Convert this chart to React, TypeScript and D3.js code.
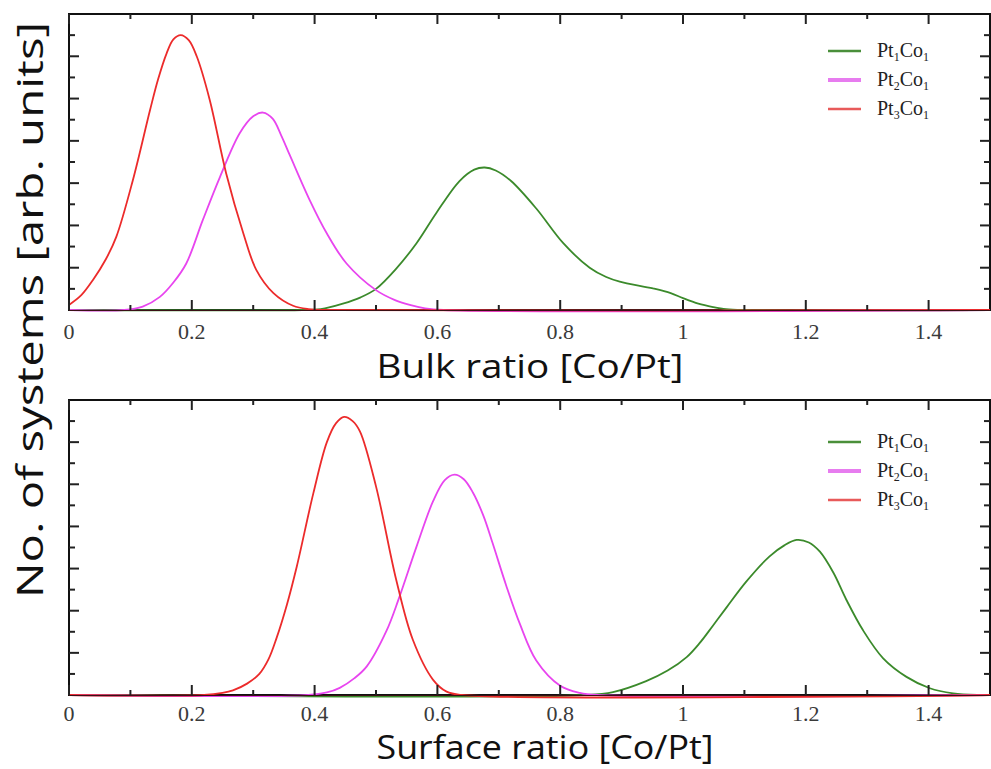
import React from "react";
import * as d3 from "d3";

// ---- Data ----
const xTicks = [0, 0.2, 0.4, 0.6, 0.8, 1, 1.2, 1.4];
const xTickLabels = ["0", "0.2", "0.4", "0.6", "0.8", "1", "1.2", "1.4"];
const seriesNames = ["Pt1Co1", "Pt2Co1", "Pt3Co1"];
const seriesSub = [["1", "1"], ["2", "1"], ["3", "1"]];

// Bulk ratio panel
const bulkPt1Co1X = [0, 0.38, 0.41, 0.446, 0.475, 0.5, 0.533, 0.566, 0.598, 0.636, 0.66, 0.677, 0.695, 0.72, 0.761, 0.805, 0.848, 0.875, 0.897, 0.951, 0.98, 1.0, 1.025, 1.049, 1.07, 1.1, 1.5];
const bulkPt1Co1Y = [0, 0, 0.02, 0.15, 0.3, 0.5, 0.98, 1.58, 2.29, 3.05, 3.32, 3.37, 3.3, 3.05, 2.4, 1.58, 1.0, 0.78, 0.67, 0.51, 0.4, 0.28, 0.15, 0.07, 0.02, 0, 0];
const bulkPt2Co1X = [0, 0.09, 0.12, 0.148, 0.17, 0.191, 0.218, 0.246, 0.278, 0.3, 0.316, 0.332, 0.345, 0.36, 0.392, 0.42, 0.452, 0.5, 0.53, 0.555, 0.58, 0.61, 1.5];
const bulkPt2Co1Y = [0, 0, 0.08, 0.31, 0.65, 1.1, 2.13, 3.15, 4.18, 4.58, 4.67, 4.52, 4.15, 3.65, 2.6, 1.81, 1.1, 0.47, 0.24, 0.12, 0.04, 0, 0];
const bulkPt3Co1X = [0, 0.02, 0.039, 0.06, 0.077, 0.104, 0.132, 0.145, 0.159, 0.17, 0.182, 0.195, 0.208, 0.229, 0.256, 0.284, 0.305, 0.333, 0.365, 0.39, 0.42, 1.5];
const bulkPt3Co1Y = [0.12, 0.35, 0.71, 1.2, 1.73, 3.07, 4.73, 5.45, 6.07, 6.4, 6.5, 6.38, 6.0, 4.98, 3.23, 1.81, 0.95, 0.4, 0.1, 0.02, 0, 0];

// Surface ratio panel
const surfPt1Co1X = [0, 0.84, 0.886, 0.94, 0.975, 1.006, 1.027, 1.049, 1.071, 1.103, 1.141, 1.165, 1.185, 1.205, 1.223, 1.245, 1.266, 1.293, 1.326, 1.364, 1.402, 1.44, 1.48, 1.5];
const surfPt1Co1Y = [0, 0, 0.07, 0.33, 0.58, 0.9, 1.23, 1.65, 2.08, 2.69, 3.29, 3.55, 3.68, 3.62, 3.4, 2.9, 2.26, 1.54, 0.87, 0.43, 0.16, 0.04, 0, 0];
const surfPt2Co1X = [0, 0.39, 0.42, 0.441, 0.465, 0.485, 0.517, 0.537, 0.566, 0.593, 0.612, 0.628, 0.643, 0.658, 0.675, 0.69, 0.712, 0.734, 0.761, 0.8, 0.832, 0.86, 1.5];
const surfPt2Co1Y = [0, 0, 0.06, 0.17, 0.4, 0.68, 1.52, 2.28, 3.52, 4.6, 5.1, 5.23, 5.12, 4.8, 4.25, 3.6, 2.6, 1.7, 0.82, 0.22, 0.05, 0, 0];
const surfPt3Co1X = [0, 0.22, 0.25, 0.267, 0.29, 0.31, 0.325, 0.338, 0.355, 0.371, 0.398, 0.42, 0.435, 0.448, 0.462, 0.474, 0.5, 0.533, 0.56, 0.593, 0.615, 0.64, 1.5];
const surfPt3Co1Y = [0, 0, 0.05, 0.11, 0.27, 0.5, 0.85, 1.35, 2.15, 3.05, 4.79, 6.0, 6.45, 6.6, 6.5, 6.25, 4.95, 2.73, 1.31, 0.36, 0.08, 0, 0];

const colors = ["#3b8a2b", "#e845ef", "#ec2b2b"];
const legendColors = ["#4a8f3a", "#e77cef", "#e85a5a"];

const W = 991;
const H = 769;
const left = 69;
const right = 990;

type Panel = {
  top: number;
  bottom: number;
  xs: number[][];
  ys: number[][];
  title: string;
  titleX: number;
  titleY: number;
  titleLen: number;
  labelDy: number;
  legendY: number[];
};

const panels: Panel[] = [
  {
    top: 14,
    bottom: 310,
    xs: [bulkPt1Co1X, bulkPt2Co1X, bulkPt3Co1X],
    ys: [bulkPt1Co1Y, bulkPt2Co1Y, bulkPt3Co1Y],
    title: "Bulk ratio [Co/Pt]",
    titleX: 530,
    titleY: 378,
    titleLen: 307,
    labelDy: 29,
    legendY: [51, 80, 109],
  },
  {
    top: 400,
    bottom: 695,
    xs: [surfPt1Co1X, surfPt2Co1X, surfPt3Co1X],
    ys: [surfPt1Co1Y, surfPt2Co1Y, surfPt3Co1Y],
    title: "Surface ratio [Co/Pt]",
    titleX: 545,
    titleY: 759,
    titleLen: 337,
    labelDy: 26,
    legendY: [442, 471, 500],
  },
];

function PanelView({ p }: { p: Panel }) {
  const x = d3.scaleLinear().domain([0, 1.5]).range([left, right]);
  const y = d3.scaleLinear().domain([0, 7]).range([p.bottom, p.top]);
  const line = d3
    .line<[number, number]>()
    .x((d) => x(d[0]))
    .y((d) => y(Math.max(0, d[1])))
    .curve(d3.curveCatmullRom.alpha(0.5));

  const xMinor = d3.range(0.1, 1.5, 0.2);
  const yMajor = d3.range(1, 7, 1);
  const yMinor = d3.range(0.5, 7, 1);
  const tickCol = "#222";

  return (
    <g>
      {/* frame */}
      <rect
        x={left}
        y={p.top}
        width={right - left}
        height={p.bottom - p.top}
        fill="none"
        stroke="#111"
        strokeWidth={2}
      />
      {/* curves */}
      {p.xs.map((xs, i) => {
        const pts: [number, number][] = xs.map((v, j) => [v, p.ys[i][j]]);
        return (
          <path
            key={i}
            d={line(pts) || ""}
            fill="none"
            stroke={colors[i]}
            strokeWidth={1.8}
          />
        );
      })}
      <line x1={left} x2={right} y1={p.bottom + 0.5} y2={p.bottom + 0.5} stroke="#3a1015" strokeWidth={1.2} />
      {/* x ticks, bottom and top, inward */}
      {xTicks.map((t) => (
        <g key={"xt" + t}>
          <line x1={x(t)} x2={x(t)} y1={p.bottom} y2={p.bottom - 10} stroke={tickCol} strokeWidth={2} />
          <line x1={x(t)} x2={x(t)} y1={p.top} y2={p.top + 10} stroke={tickCol} strokeWidth={2} />
        </g>
      ))}
      {xMinor.map((t) => (
        <g key={"xm" + t}>
          <line x1={x(t)} x2={x(t)} y1={p.bottom} y2={p.bottom - 5} stroke={tickCol} strokeWidth={2} />
          <line x1={x(t)} x2={x(t)} y1={p.top} y2={p.top + 5} stroke={tickCol} strokeWidth={2} />
        </g>
      ))}
      {/* y ticks left and right */}
      {yMajor.map((t) => (
        <g key={"yt" + t}>
          <line x1={left} x2={left + 10} y1={y(t)} y2={y(t)} stroke={tickCol} strokeWidth={2} />
          <line x1={right} x2={right - 10} y1={y(t)} y2={y(t)} stroke={tickCol} strokeWidth={2} />
        </g>
      ))}
      {yMinor.map((t) => (
        <g key={"ym" + t}>
          <line x1={left} x2={left + 6} y1={y(t)} y2={y(t)} stroke={tickCol} strokeWidth={2} />
          <line x1={right} x2={right - 6} y1={y(t)} y2={y(t)} stroke={tickCol} strokeWidth={2} />
        </g>
      ))}
      {/* x tick labels */}
      {xTickLabels.map((lab, i) => (
        <text
          key={"xl" + lab}
          x={x(xTicks[i])}
          y={p.bottom + p.labelDy}
          textAnchor="middle"
          fontFamily="Liberation Serif"
          fontSize={22}
          fill="#3a3a3a"
        >
          {lab}
        </text>
      ))}
      {/* x title */}
      <text
        x={p.titleX}
        y={p.titleY}
        textAnchor="middle"
        fontFamily="Open Sans"
        fontSize={32}
        textLength={p.titleLen}
        lengthAdjust="spacingAndGlyphs"
        fill="#111"
      >
        {p.title}
      </text>
      {/* legend */}
      {seriesNames.map((n, i) => (
        <g key={"lg" + n}>
          <line
            x1={828}
            x2={861}
            y1={p.legendY[i]}
            y2={p.legendY[i]}
            stroke={legendColors[i]}
            strokeWidth={i === 1 ? 4 : 2.5}
          />
          <text
            x={877}
            y={p.legendY[i] + 6}
            fontFamily="Liberation Serif"
            fontSize={20}
            fill="#222"
          >
            Pt
            <tspan fontSize={12} dy={4}>{seriesSub[i][0]}</tspan>
            <tspan fontSize={20} dy={-4}>Co</tspan>
            <tspan fontSize={12} dy={4}>{seriesSub[i][1]}</tspan>
          </text>
        </g>
      ))}
    </g>
  );
}

export default function App() {
  return (
    <svg
      width={W}
      height={H}
      style={{ position: "absolute", left: 0, top: 0, background: "#fff" }}
    >
      <rect x={0} y={0} width={W} height={H} fill="#fff" />
      {panels.map((p, i) => (
        <PanelView key={i} p={p} />
      ))}
      <text
        transform={`translate(43, 310) rotate(-90)`}
        textAnchor="middle"
        fontFamily="Open Sans"
        fontSize={37}
        textLength={576}
        lengthAdjust="spacingAndGlyphs"
        fill="#111"
      >
        No. of systems [arb. units]
      </text>
    </svg>
  );
}
